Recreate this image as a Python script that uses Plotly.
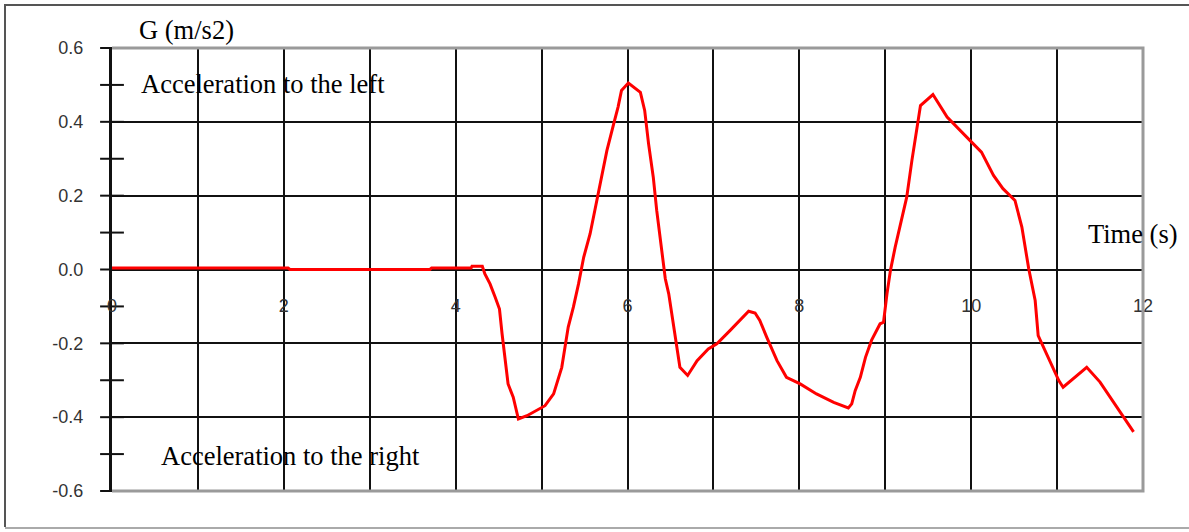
import plotly.graph_objects as go

# ---- data ----
time_s = [0.00, 2.05, 2.07, 3.70, 3.72, 4.18, 4.19, 4.31, 4.34, 4.40, 4.46, 4.51, 4.54, 4.575,
          4.61, 4.67, 4.73, 4.83, 5.04, 5.14, 5.235, 5.31, 5.37, 5.43, 5.49, 5.565, 5.68,
          5.76, 5.84, 5.89, 5.93, 6.01, 6.15, 6.20, 6.245, 6.30, 6.34, 6.40, 6.44, 6.48,
          6.53, 6.57, 6.61, 6.70, 6.81, 6.94, 7.04, 7.195, 7.41, 7.485, 7.54, 7.62, 7.74,
          7.85, 8.01, 8.20, 8.40, 8.57, 8.61, 8.65, 8.71, 8.77, 8.84, 8.94, 8.98, 9.02,
          9.06, 9.115, 9.17, 9.25, 9.31, 9.365, 9.41, 9.555, 9.72, 10.005, 10.12, 10.26,
          10.37, 10.51, 10.59, 10.67, 10.745, 10.78, 10.88, 11.02, 11.07, 11.345, 11.50,
          11.70, 11.89]
g_accel = [0.004, 0.004, 0.0, 0.0, 0.004, 0.004, 0.009, 0.009, -0.012, -0.039, -0.075, -0.107,
           -0.174, -0.247, -0.31, -0.346, -0.405, -0.396, -0.369, -0.337, -0.265, -0.156,
           -0.102, -0.039, 0.033, 0.097, 0.232, 0.322, 0.395, 0.44, 0.485, 0.505, 0.48,
           0.431, 0.341, 0.25, 0.16, 0.042, -0.025, -0.066, -0.147, -0.21, -0.265, -0.287,
           -0.247, -0.215, -0.201, -0.165, -0.113, -0.118, -0.138, -0.183, -0.247, -0.292,
           -0.31, -0.337, -0.36, -0.375, -0.364, -0.328, -0.292, -0.238, -0.192, -0.147,
           -0.143, -0.066, -0.003, 0.06, 0.115, 0.196, 0.295, 0.377, 0.444, 0.474, 0.413,
           0.345, 0.318, 0.255, 0.219, 0.187, 0.115, 0.002, -0.084, -0.179, -0.229, -0.301,
           -0.319, -0.265, -0.305, -0.373, -0.44]

x_tick_vals = [0, 1, 2, 3, 4, 5, 6, 7, 8, 9, 10, 11, 12]
x_tick_text = ["0", "", "2", "", "4", "", "6", "", "8", "", "10", "", "12"]
y_tick_vals = [-0.6, -0.4, -0.2, 0.0, 0.2, 0.4, 0.6]
y_tick_text = ["-0.6", "-0.4", "-0.2", "0.0", "0.2", "0.4", "0.6"]
y_mark_vals = [-0.6, -0.5, -0.4, -0.3, -0.2, -0.1, 0.0, 0.1, 0.2, 0.3, 0.4, 0.5, 0.6]

y_title = "G (m/s2)"
x_title = "Time (s)"
note_left = "Acceleration to the left"
note_right = "Acceleration to the right"

W, H = 1189, 532
L, R, T, B = 112, 46, 48, 41
pw, ph = W - L - R, H - T - B


def px(xp):
    return (xp - L) / pw


def py(yp):
    return (H - B - yp) / ph


fig = go.Figure()

# y-axis tick marks crossing the axis line
fig.add_trace(go.Scatter(
    x=[0] * len(y_mark_vals), y=y_mark_vals, mode="markers",
    marker=dict(symbol="line-ew-open", size=17, color="#111111",
                line=dict(color="#111111", width=2)),
    cliponaxis=False, hoverinfo="skip", showlegend=False))
# x-axis end tick
fig.add_trace(go.Scatter(
    x=[x_tick_vals[-1]], y=[0], mode="markers",
    marker=dict(symbol="line-ns-open", size=11, color="#111111",
                line=dict(color="#111111", width=2)),
    cliponaxis=False, hoverinfo="skip", showlegend=False))

fig.add_trace(go.Scatter(
    x=time_s, y=g_accel, mode="lines",
    line=dict(color="#ff0000", width=3),
    showlegend=False))

tick_font = dict(family="Liberation Sans, Arial, sans-serif", size=18, color="#333333")
serif = dict(family="Liberation Serif, Times New Roman, serif", size=26.5, color="#000000")

fig.update_layout(
    width=W, height=H,
    margin=dict(l=L, r=R, t=T, b=B),
    paper_bgcolor="white", plot_bgcolor="white",
    xaxis=dict(range=[0, 12], tickvals=x_tick_vals, ticktext=x_tick_text,
               showgrid=True, gridcolor="#111111", gridwidth=2,
               zeroline=False, showline=False, ticks="",
               anchor="free", position=0.5, ticklabelstandoff=23,
               tickfont=tick_font, fixedrange=True),
    yaxis=dict(range=[-0.6, 0.6], tickvals=y_tick_vals, ticktext=y_tick_text,
               showgrid=True, gridcolor="#111111", gridwidth=2,
               zeroline=False, showline=True, linecolor="#111111", linewidth=3,
               ticks="", ticklabelstandoff=22, tickfont=tick_font, fixedrange=True),
    shapes=[
        # gray plot border top / right / bottom
        dict(type="path", xref="paper", yref="paper",
             path="M 0,1 L 1,1 L 1,0 L 0,0", line=dict(color="#9a9a9a", width=3),
             layer="above"),
        # outer frame
        dict(type="path", xref="paper", yref="paper",
             path=f"M {px(1200)},{py(5)} L {px(5)},{py(5)} L {px(5)},{py(527)}",
             line=dict(color="#555555", width=2), layer="above"),
        dict(type="line", xref="paper", yref="paper",
             x0=px(5), x1=px(1200), y0=py(528), y1=py(528),
             line=dict(color="#aaaaaa", width=2), layer="above"),
    ],
    annotations=[
        dict(text=y_title, xref="paper", yref="paper", x=px(137), y=py(30),
             xanchor="left", yanchor="middle", showarrow=False, font=serif),
        dict(text=note_left, xref="paper", yref="paper", x=px(139), y=py(84),
             xanchor="left", yanchor="middle", showarrow=False, font=serif),
        dict(text=note_right, xref="paper", yref="paper", x=px(159), y=py(456),
             xanchor="left", yanchor="middle", showarrow=False, font=serif),
        dict(text=x_title, xref="paper", yref="paper", x=px(1086), y=py(234),
             xanchor="left", yanchor="middle", showarrow=False, font=serif),
    ],
)

fig.write_html("out.html")
